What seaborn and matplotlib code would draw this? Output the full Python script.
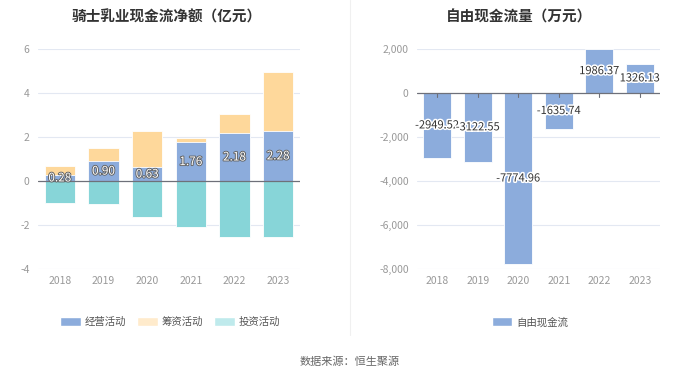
import matplotlib
matplotlib.use("Agg")
import matplotlib.pyplot as plt
import matplotlib.patheffects as pe
from matplotlib.patches import Patch
import seaborn as sns
import pandas as pd
import numpy as np

years = ["2018", "2019", "2020", "2021", "2022", "2023"]
operating = [0.28, 0.90, 0.63, 1.76, 2.18, 2.28]
financing = [0.42, 0.62, 1.63, 0.19, 0.88, 2.67]
investing = [-0.98, -1.05, -1.62, -2.09, -2.53, -2.53]
free_cf = [-2949.52, -3122.55, -7774.96, -1635.74, 1986.37, 1326.13]

sns.set_theme(style="white")
plt.rcParams['font.family'] = ['Noto Sans CJK SC', 'DejaVu Sans']
plt.rcParams['axes.unicode_minus'] = False

C_OP = "#8cacdc"
C_FIN = "#fed89b"
C_INV = "#87d5d8"
GRID = "#e3e8f2"
TICK = "#999999"

fig = plt.figure(figsize=(7, 3.77), dpi=100)
axL = fig.add_axes([38/700, 1-269/377, 262/700, 220/377])
axR = fig.add_axes([417/700, 1-269/377, 243/700, 220/377])

df = pd.DataFrame({"year": years, "op": operating, "fin": financing, "inv": investing})
df["pos"] = df["op"] + df["fin"]

def style(ax, ticks, fmt):
    ax.set_yticks(ticks)
    ax.set_yticklabels([fmt(t) for t in ticks], color=TICK, fontsize=7.5)
    for t in ticks:
        if t != 0:
            ax.axhline(t, color=GRID, lw=0.8, zorder=0)
    ax.axhline(0, color="#6e7079", lw=0.9, zorder=3)
    for s in ax.spines.values():
        s.set_visible(False)
    ax.tick_params(axis="both", length=0, pad=6)
    ax.tick_params(axis="x", colors=TICK, labelsize=7.5, pad=5)
    ax.set_xlabel("")
    ax.set_ylabel("")
    ax.set_xlim(-0.5, 5.5)

bw = 0.69
sns.barplot(data=df, x="year", y="pos", color=C_FIN, ax=axL, width=bw, saturation=1, zorder=2)
sns.barplot(data=df, x="year", y="op", color=C_OP, ax=axL, width=bw, saturation=1, zorder=2)
sns.barplot(data=df, x="year", y="inv", color=C_INV, ax=axL, width=bw, saturation=1, zorder=2)
for p in axL.patches:
    p.set_edgecolor("white")
    p.set_linewidth(0.6)
axL.set_ylim(-4, 6)
style(axL, [-4, -2, 0, 2, 4, 6], lambda t: f"{t:g}")
for i, v in enumerate(operating):
    axL.text(i, v/2, f"{v:.2f}", ha="center", va="center", fontsize=8.5, color="white", zorder=5,
             path_effects=[pe.withStroke(linewidth=1.3, foreground="#606060")])
axL.set_title("骑士乳业现金流净额（亿元）", fontsize=10.5, fontweight="bold", color="#333333", pad=20, x=0.49)

dfr = pd.DataFrame({"year": years, "fcf": free_cf})
sns.barplot(data=dfr, x="year", y="fcf", color=C_OP, ax=axR, width=0.7, saturation=1, zorder=2)
for p in axR.patches:
    p.set_edgecolor("white")
    p.set_linewidth(0.6)
axR.set_ylim(-8000, 2000)
style(axR, [-8000, -6000, -4000, -2000, 0, 2000], lambda t: f"{t:,.0f}")
for i in range(6):
    axR.plot([i, i], [0, -180], color="#6e7079", lw=0.8, zorder=3)
for i, v in enumerate(free_cf):
    axR.text(i, v/2, f"{v:.2f}", ha="center", va="center", fontsize=8, color="#333333", zorder=5,
             path_effects=[pe.withStroke(linewidth=2.2, foreground="white")])
axR.set_title("自由现金流量（万元）", fontsize=10.5, fontweight="bold", color="#333333", pad=20, x=0.42)

# legends
legL = [Patch(facecolor=C_OP, label="经营活动"), Patch(facecolor="#ffebcc", label="筹资活动"),
        Patch(facecolor="#bfeaec", label="投资活动")]
fig.legend(handles=legL, loc="center", bbox_to_anchor=(170/700, 1-322/377), ncol=3, frameon=False,
           fontsize=7.5, handlelength=2.0, handleheight=1.0, columnspacing=1.0, handletextpad=0.4,
           labelcolor="#555555")
legR = [Patch(facecolor=C_OP, label="自由现金流")]
fig.legend(handles=legR, loc="center", bbox_to_anchor=(530/700, 1-322/377), ncol=1, frameon=False,
           fontsize=7.5, handlelength=2.0, handleheight=1.0, handletextpad=0.4, labelcolor="#555555")

fig.add_artist(plt.Line2D([350/700, 350/700], [1-335/377, 1.0], color="#f0f0f0", lw=0.8))
fig.text(0.5, 1-362/377, "数据来源：恒生聚源", ha="center", va="center", fontsize=8, color="#666666")

fig.savefig("out.png", dpi=100)
